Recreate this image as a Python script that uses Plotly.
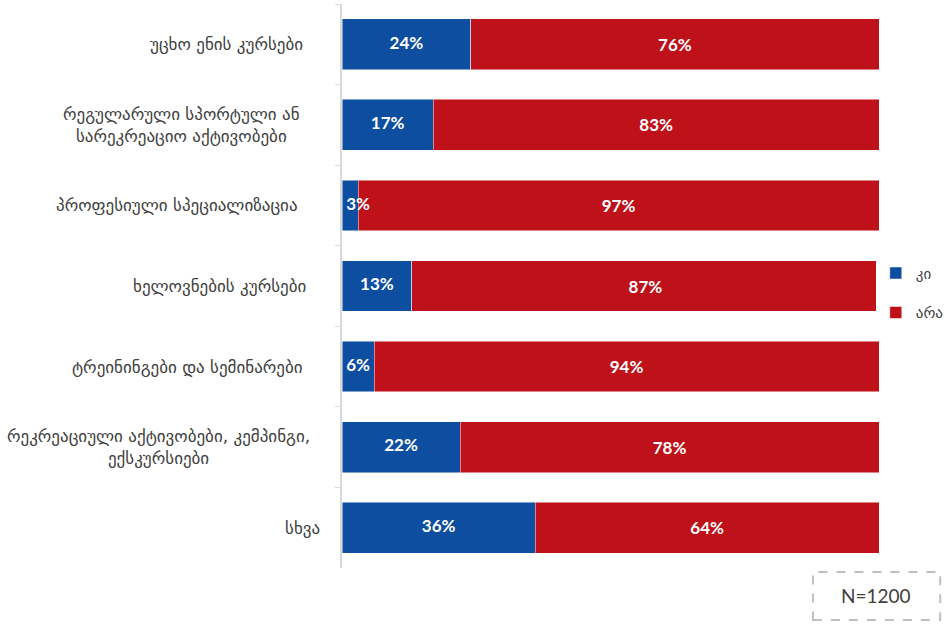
import plotly.graph_objects as go

categories = [
    "უცხო ენის კურსები",
    "რეგულარული სპორტული ან<br>სარეკრეაციო აქტივობები",
    "პროფესიული სპეციალიზაცია",
    "ხელოვნების კურსები",
    "ტრეინინგები და სემინარები",
    "რეკრეაციული აქტივობები, კემპინგი,<br>ექსკურსიები",
    "სხვა",
]
yes_values = [24, 17, 3, 13, 6, 22, 36]
no_values = [76, 83, 97, 87, 94, 78, 64]
series_names = ["კი", "არა"]
sample_note = "N=1200"

# layout-only: pixel gap between each category label and the axis
label_gap = [37, 40, 42, 34, 37, 30, 20]

BLUE = "#0d4ea1"
RED = "#be1119"
LABEL_FONT = "DejaVu Sans"
NUM_FONT = "Lato"
PCT_FONT = dict(family=NUM_FONT, size=17, color="white", weight="bold")

fig = go.Figure()
fig.add_trace(go.Bar(
    y=categories, x=yes_values, name=series_names[0], orientation="h",
    marker=dict(color=BLUE, line=dict(color="rgba(255,255,255,0.6)", width=0.8)),
    hoverinfo="x+name", legendgroup="a",
))
fig.add_trace(go.Bar(
    y=categories, x=no_values, name=series_names[1], orientation="h",
    marker=dict(color=RED, line=dict(color="rgba(255,255,255,0.6)", width=0.8)),
    text=[f"{v}%" for v in no_values], textposition="inside", textangle=0,
    insidetextanchor="middle", constraintext="none", textfont=PCT_FONT,
    hoverinfo="x+name", legendgroup="b",
))
# blue labels: centred in the segment, but kept inside the plot for thin segments
fig.add_trace(go.Scatter(
    y=categories, x=[max(v / 2, 3) for v in yes_values], mode="text",
    text=[f"{v}%" for v in yes_values], textposition="middle center",
    textfont=PCT_FONT, showlegend=False, hoverinfo="skip", cliponaxis=False,
))

for cat, gap in zip(categories, label_gap):
    fig.add_annotation(
        x=0, xref="paper", y=cat, yref="y", text=cat, showarrow=False,
        xanchor="right", xshift=-gap, align="center",
        font=dict(family=LABEL_FONT, size=17, color="#404040"),
    )

fig.add_shape(type="rect", xref="paper", yref="paper",
              x0=0.877, x1=1.114, y0=-0.092, y1=-0.007,
              line=dict(color="#bfbfbf", width=2, dash="dash"))
fig.add_annotation(x=0.9953, xref="paper", y=-0.0496, yref="paper",
                   xanchor="center", yanchor="middle",
                   text=sample_note, showarrow=False,
                   font=dict(family=NUM_FONT, size=19, color="#404040"))

fig.update_layout(
    width=949, height=624,
    margin=dict(l=342, r=70, t=4, b=56, autoexpand=False),
    paper_bgcolor="white", plot_bgcolor="white",
    barmode="stack", bargap=0.37,
    uniformtext=dict(minsize=17, mode="show"),
    showlegend=True,
    legend=dict(x=0.994, y=0.488, xanchor="left", yanchor="middle",
                traceorder="grouped", tracegroupgap=17,
                font=dict(family=LABEL_FONT, size=15, color="#404040"),
                itemwidth=30),
    xaxis=dict(range=[0, 100], visible=False, fixedrange=True),
    yaxis=dict(autorange="reversed", showticklabels=False,
               showline=True, linecolor="#d9d9d9", linewidth=1.5,
               ticks="outside", tickson="boundaries", ticklen=5,
               tickcolor="#d9d9d9", showgrid=False, zeroline=False),
)

fig.write_html("out.html", config={"displayModeBar": False},
               post_script="document.body.style.margin='0';document.body.style.overflow='hidden';")
